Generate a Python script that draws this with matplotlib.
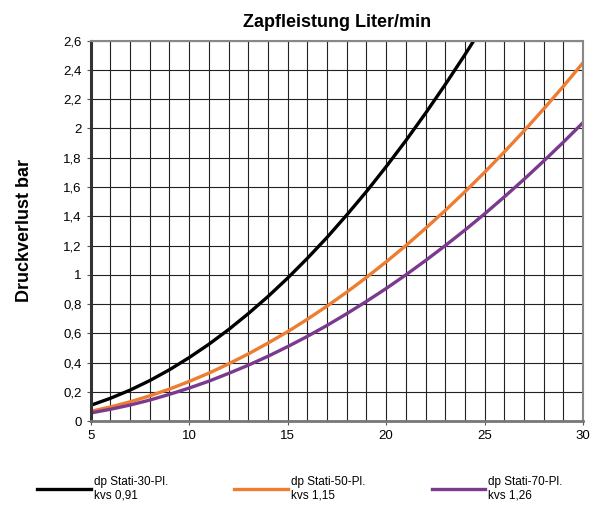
import matplotlib.pyplot as plt
from matplotlib.ticker import FixedLocator, MultipleLocator

# Zapfleistung in Liter/min
durchfluss = list(range(5, 31))

# Druckverlust in bar
dp_30 = [0.109, 0.157, 0.213, 0.278, 0.352, 0.435, 0.526, 0.626, 0.735, 0.852, 0.978,
         1.113, 1.256, 1.409, 1.569, 1.739, 1.917, 2.104, 2.300, 2.504, 2.717]
dp_50 = [0.068, 0.098, 0.133, 0.174, 0.220, 0.272, 0.329, 0.392, 0.460, 0.534, 0.612,
         0.697, 0.787, 0.882, 0.983, 1.089, 1.200, 1.318, 1.440, 1.568, 1.701, 1.840,
         1.984, 2.134, 2.289, 2.450]
dp_70 = [0.057, 0.082, 0.111, 0.145, 0.184, 0.227, 0.274, 0.327, 0.383, 0.444, 0.510,
         0.580, 0.655, 0.735, 0.819, 0.907, 1.000, 1.098, 1.200, 1.306, 1.417, 1.533,
         1.653, 1.778, 1.907, 2.041]

labels = ['dp Stati-30-Pl.\nkvs 0,91', 'dp Stati-50-Pl.\nkvs 1,15', 'dp Stati-70-Pl.\nkvs 1,26']
farben = ['#000000', '#ED7D31', '#7B3A8E']

y_ticks = [0, 0.2, 0.4, 0.6, 0.8, 1, 1.2, 1.4, 1.6, 1.8, 2, 2.2, 2.4, 2.6]
y_ticklabels = ['0', '0,2', '0,4', '0,6', '0,8', '1', '1,2', '1,4', '1,6', '1,8', '2', '2,2', '2,4', '2,6']
x_ticks = [5, 10, 15, 20, 25, 30]

plt.rcParams['font.family'] = ['Liberation Sans', 'DejaVu Sans']

fig = plt.figure(figsize=(6, 5.07), dpi=100)
ax = fig.add_axes([0.151, 0.169, 0.821, 0.751])

ax.plot(durchfluss[:len(dp_30)], dp_30, color=farben[0], lw=2.4, label=labels[0])
ax.plot(durchfluss, dp_50, color=farben[1], lw=2.4, label=labels[1])
ax.plot(durchfluss, dp_70, color=farben[2], lw=2.4, label=labels[2])

ax.set_xlim(5, 30)
ax.set_ylim(0, 2.6)
ax.xaxis.set_major_locator(FixedLocator(x_ticks))
ax.xaxis.set_minor_locator(MultipleLocator(1))
ax.set_yticks(y_ticks)
ax.set_yticklabels(y_ticklabels)
ax.grid(True, which='both', axis='x', color='#222222', lw=0.8)
ax.grid(True, which='major', axis='y', color='#222222', lw=0.8)
ax.tick_params(axis='x', which='minor', length=0)
ax.tick_params(axis='both', which='major', labelsize=9.5, length=3, color='#555555')

for s in ['top', 'right']:
    ax.spines[s].set_color('#888888')
    ax.spines[s].set_linewidth(1.5)
ax.spines['bottom'].set_color('#777777')
ax.spines['bottom'].set_linewidth(2)
ax.spines['left'].set_color('#333333')
ax.spines['left'].set_linewidth(2.2)

ax.set_title('Zapfleistung Liter/min', fontsize=13, fontweight='bold', pad=10)
ax.set_ylabel('Druckverlust bar', fontsize=13, fontweight='bold', labelpad=22)

fig.legend(loc='lower center', bbox_to_anchor=(0.5, -0.01), ncol=3, frameon=False,
           fontsize=8.5, handlelength=4.5, handletextpad=0.3, columnspacing=5.6)

fig.savefig('out.png', dpi=100)
